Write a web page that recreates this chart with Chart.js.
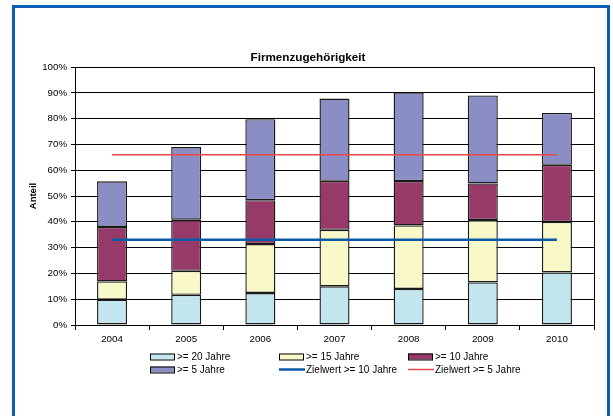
<!DOCTYPE html>
<html><head><meta charset="utf-8">
<script src="https://cdn.jsdelivr.net/npm/chart.js@4/dist/chart.umd.min.js"></script>
<style>
html,body{margin:0;padding:0;background:#fff;width:613px;height:416px;overflow:hidden;}
#wrap{position:absolute;left:0;top:0;width:613px;height:416px;}
#frame{position:absolute;left:12px;top:5px;width:598px;height:430px;border:3px solid #0b5cb5;box-sizing:border-box;pointer-events:none;}
</style></head><body>
<div id="wrap"><canvas id="c" width="613" height="416"></canvas></div>
<div id="frame"></div>
<script>
const years = ['2004','2005','2006','2007','2008','2009','2010'];
const ge20 = [9.8, 11.7, 12.4, 15.0, 14.0, 16.5, 20.4];
const ge15 = [7.1, 9.3, 19.0, 21.9, 24.6, 24.2, 19.6];
const ge10 = [21.1, 19.8, 17.0, 19.0, 17.2, 14.2, 22.1];
const ge5  = [17.7, 28.2, 31.4, 31.9, 34.4, 34.1, 20.1];
const target10 = [33, 33, 33, 33, 33, 33, 33];
const target5  = [66, 66, 66, 66, 66, 66, 66];
const labels = ['>= 20 Jahre', '>= 15 Jahre', '>= 10 Jahre', '>= 5 Jahre', 'Zielwert >= 10 Jahre', 'Zielwert >= 5 Jahre'];
const titleText = 'Firmenzugehörigkeit';
const yTitle = 'Anteil';

const FONT = '"Liberation Sans", Arial, sans-serif';

const frameP = {
  id: 'frameP',
  beforeDatasetsDraw(chart) {
    const a = chart.chartArea, ctx = chart.ctx;
    ctx.save();
    ctx.strokeStyle = '#000'; ctx.lineWidth = 1;
    ctx.beginPath();
    ctx.moveTo(Math.round(a.right) + 0.5, a.top);
    ctx.lineTo(Math.round(a.right) + 0.5, a.bottom);
    ctx.stroke();
    ctx.restore();
  }
};

const legendP = {
  id: 'legendP',
  afterDraw(chart) {
    const ctx = chart.ctx;
    const cols = [150, 279, 408], rows = [356.5, 369.5];
    ctx.save();
    ctx.font = '10px ' + FONT;
    ctx.textBaseline = 'middle';
    chart.data.datasets.forEach((ds, i) => {
      const x = cols[i % 3], y = rows[Math.floor(i / 3)];
      if (ds.type === 'line') {
        ctx.strokeStyle = ds.borderColor; ctx.lineWidth = ds.borderWidth;
        ctx.beginPath(); ctx.moveTo(x, y); ctx.lineTo(x + 26, y); ctx.stroke();
      } else {
        ctx.fillStyle = ds.backgroundColor;
        ctx.fillRect(x, y - 3, 25, 6);
        ctx.strokeStyle = '#000'; ctx.lineWidth = 1;
        ctx.strokeRect(x + 0.5, y - 3 + 0.5, 24, 6);
      }
      ctx.fillStyle = '#000';
      ctx.fillText(ds.label, x + 27, y + 0.5);
    });
    ctx.restore();
  }
};

const barCommon = { borderColor: '#1a1a1a', borderWidth: 1.4, barPercentage: 0.405, categoryPercentage: 1, order: 1, borderSkipped: false };

new Chart(document.getElementById('c'), {
  type: 'bar',
  data: {
    labels: years,
    datasets: [
      Object.assign({ label: labels[0], data: ge20, backgroundColor: '#C3E6EE' }, barCommon),
      Object.assign({ label: labels[1], data: ge15, backgroundColor: '#F8F8C8' }, barCommon),
      Object.assign({ label: labels[2], data: ge10, backgroundColor: '#973A69' }, barCommon),
      Object.assign({ label: labels[3], data: ge5,  backgroundColor: '#8B8DC5' }, barCommon),
      { type: 'line', label: labels[4], data: target10, borderColor: '#0b5aa8', borderWidth: 2.5, pointRadius: 0, stack: 'l1', order: 0, fill: false },
      { type: 'line', label: labels[5], data: target5, borderColor: '#f04848', borderWidth: 1.5, pointRadius: 0, stack: 'l2', order: 0, fill: false }
    ]
  },
  options: {
    responsive: false,
    animation: false,
    devicePixelRatio: 1,
    layout: { padding: { left: 22, right: 19, top: 51, bottom: 66 } },
    plugins: {
      legend: { display: false },
      tooltip: { enabled: false },
      title: { display: true, text: titleText, color: '#000', font: { family: FONT, size: 11.7, weight: 'bold', lineHeight: 1.2 }, padding: { top: 0, bottom: 2 } }
    },
    scales: {
      x: {
        stacked: true,
        offset: true,
        grid: { display: true, drawOnChartArea: false, drawTicks: true, tickLength: 5, color: '#000', offset: true },
        border: { display: true, color: '#000', width: 1 },
        ticks: { color: '#000', font: { family: FONT, size: 9.8 }, padding: 3, maxRotation: 0 },
        afterFit(s) { s.height = 25; }
      },
      y: {
        stacked: true,
        min: 0, max: 100,
        grid: { color: '#000', lineWidth: 1, drawTicks: true, tickLength: 4 },
        border: { display: true, color: '#000', width: 1 },
        ticks: { stepSize: 10, color: '#000', font: { family: FONT, size: 9.7 }, padding: 4, callback: v => v + '%' },
        title: { display: true, text: yTitle, color: '#000', font: { family: FONT, size: 9.5, weight: 'bold', lineHeight: 1.2 }, padding: { top: 6, bottom: 0 } },
        afterFit(s) { s.width = 53; }
      }
    }
  },
  plugins: [frameP, legendP]
});
</script>
</body></html>
